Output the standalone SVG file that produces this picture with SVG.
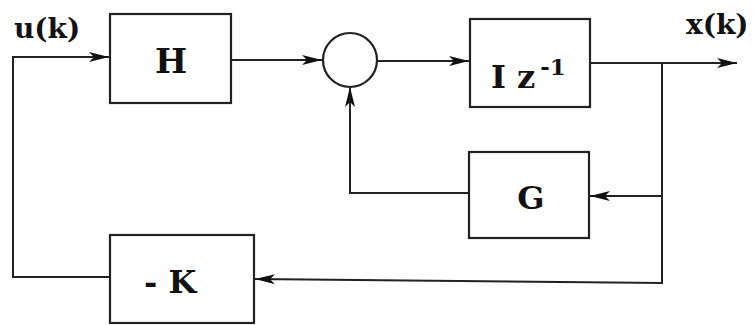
<svg xmlns="http://www.w3.org/2000/svg" width="756" height="325" viewBox="0 0 756 325">
<style>
.box{fill:none;stroke:#222;stroke-width:2.2}
.ln{fill:none;stroke:#222;stroke-width:2}
.t{font-family:"DejaVu Serif","Liberation Serif",serif;font-weight:bold;fill:#111}
</style>
<defs>
<marker id="arr" viewBox="0 0 20 10" refX="20" refY="5" markerWidth="20" markerHeight="10" markerUnits="userSpaceOnUse" orient="auto">
<path d="M0,0 L20,5 L0,10 L5,5 z" fill="#111"/>
</marker>
</defs>
<rect width="756" height="325" fill="#fff"/>
<g id="connectors">
<path class="ln" d="M110,277 L13,277 L13,57 L109,57" marker-end="url(#arr)"/>
<path class="ln" d="M231,60 L322,60" marker-end="url(#arr)"/>
<path class="ln" d="M377,61 L469,61" marker-end="url(#arr)"/>
<path class="ln" d="M590,63 L737,63" marker-end="url(#arr)"/>
<path class="ln" d="M662,63 L662,283 L255,279" marker-end="url(#arr)"/>
<path class="ln" d="M662,196 L590,196" marker-end="url(#arr)"/>
<path class="ln" d="M469,193 L350,193 L350,87" marker-end="url(#arr)"/>
</g>
<g id="label-u">
<text class="t" x="14" y="38" font-size="28">u(k)</text>
</g>
<g id="label-x">
<text class="t" x="686" y="34" font-size="28">x(k)</text>
</g>
<g id="H">
<rect class="box" x="110" y="14" width="121" height="89"/>
<text class="t" x="171" y="73" font-size="34" text-anchor="middle">H</text>
</g>
<g id="sum">
<circle class="box" cx="350" cy="60" r="27"/>
</g>
<g id="Iz">
<rect class="box" x="470" y="19" width="120" height="88"/>
<text class="t" x="491" y="88" font-size="32">I z<tspan font-size="23" dx="5" dy="-13">-1</tspan></text>
</g>
<g id="G">
<rect class="box" x="469" y="152" width="120" height="86"/>
<text class="t" x="531" y="209" font-size="32" text-anchor="middle">G</text>
</g>
<g id="K">
<rect class="box" x="110" y="235" width="144" height="88"/>
<text class="t" x="144" y="293" font-size="32">- K</text>
</g>
</svg>
